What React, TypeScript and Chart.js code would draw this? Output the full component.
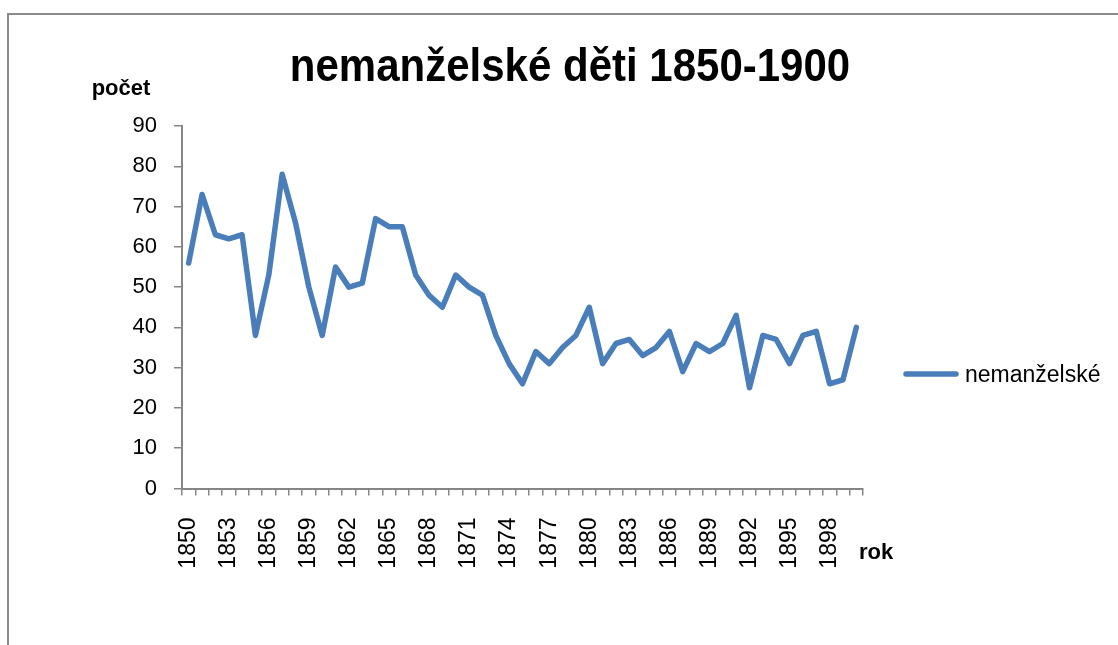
import React, { useEffect, useRef } from "react";
import { Chart, registerables } from "chart.js";

Chart.register(...registerables);

const years: string[] = [
  "1850","1851","1852","1853","1854","1855","1856","1857","1858","1859",
  "1860","1861","1862","1863","1864","1865","1866","1867","1868","1869",
  "1870","1871","1872","1873","1874","1875","1876","1877","1878","1879",
  "1880","1881","1882","1883","1884","1885","1886","1887","1888","1889",
  "1890","1891","1892","1893","1894","1895","1896","1897","1898","1899",
  "1900",
];

const illegitimate: number[] = [
  56, 73, 63, 62, 63, 38, 53, 78, 66, 50,
  38, 55, 50, 51, 67, 65, 65, 53, 48, 45,
  53, 50, 48, 38, 31, 26, 34, 31, 35, 38,
  45, 31, 36, 37, 33, 35, 39, 29, 36, 34,
  36, 43, 25, 38, 37, 31, 38, 39, 26, 27,
  40,
];

const yTicks: number[] = [0, 10, 20, 30, 40, 50, 60, 70, 80, 90];

const TITLE = "nemanželské děti 1850-1900";
const SERIES = "nemanželské";
const Y_TITLE = "počet";
const X_TITLE = "rok";

const FONT = "'Liberation Sans', Arial, sans-serif";
const BLUE = "#4a7ebb";
const GREY = "#868686";

export default function App() {
  const ref = useRef<HTMLCanvasElement | null>(null);

  useEffect(() => {
    if (!ref.current) return;
    const textPlugin = {
      id: "texts",
      afterDraw(chart: any) {
        const ctx = chart.ctx as CanvasRenderingContext2D;
        ctx.save();
        ctx.fillStyle = "#000";
        ctx.textBaseline = "middle";
        ctx.textAlign = "center";
        ctx.save();
        ctx.translate(570, 68);
        ctx.scale(1, 1.1);
        ctx.font = `bold 42px ${FONT}`;
        ctx.fillText(TITLE, 0, 0);
        ctx.restore();
        ctx.font = `bold 22px ${FONT}`;
        ctx.fillText(Y_TITLE, 121, 89);
        ctx.textAlign = "left";
        ctx.fillText(X_TITLE, 859, 553);
        // legend
        ctx.strokeStyle = BLUE;
        ctx.lineWidth = 5.5;
        ctx.lineCap = "round";
        ctx.beginPath();
        ctx.moveTo(906, 374);
        ctx.lineTo(956, 374);
        ctx.stroke();
        ctx.font = `23px ${FONT}`;
        ctx.fillText(SERIES, 965, 376);
        ctx.restore();
      },
    };

    const chart = new Chart(ref.current, {
      type: "line",
      data: {
        labels: years,
        datasets: [
          {
            label: SERIES,
            data: illegitimate,
            borderColor: BLUE,
            backgroundColor: BLUE,
            borderWidth: 5.5,
            pointRadius: 0,
            tension: 0,
            borderCapStyle: "round",
            borderJoinStyle: "round",
          },
        ],
      },
      options: {
        responsive: false,
        animation: false,
        devicePixelRatio: 1,
        layout: { padding: { left: 122, right: 255, top: 126, bottom: 56.5 } },
        plugins: {
          legend: { display: false },
          title: { display: false },
          tooltip: { enabled: false },
        },
        scales: {
          x: {
            type: "category",
            offset: true,
            afterFit: (s: any) => {
              s.height = 100;
            },
            grid: {
              offset: true,
              drawOnChartArea: false,
              drawTicks: true,
              tickLength: 7,
              color: GREY,
              lineWidth: 1.5,
            },
            border: { color: GREY, width: 2 },
            ticks: {
              autoSkip: false,
              minRotation: 90,
              maxRotation: 90,
              padding: 22,
              color: "#000",
              font: { family: FONT, size: 23 },
              callback: (_v: any, i: number) => (i % 3 === 0 ? years[i] : ""),
            },
          },
          y: {
            min: 0,
            max: 90,
            afterFit: (s: any) => {
              s.width = 60;
            },
            afterBuildTicks: (s: any) => {
              s.ticks = yTicks.map((v) => ({ value: v }));
            },
            grid: {
              drawOnChartArea: false,
              drawTicks: true,
              tickLength: 8,
              color: GREY,
              lineWidth: 1.5,
            },
            border: { color: GREY, width: 2 },
            ticks: {
              padding: 17,
              color: "#000",
              font: { family: FONT, size: 22 },
            },
          },
        },
      },
      plugins: [textPlugin],
    });
    return () => chart.destroy();
  }, []);

  return (
    <div
      style={{
        position: "fixed",
        left: 0,
        top: 0,
        width: 1118,
        height: 645,
        overflow: "hidden",
        background: "#fff",
      }}
    >
      <div
        style={{
          position: "absolute",
          left: 7,
          top: 13,
          width: 1300,
          height: 800,
          border: "2px solid #8a8a8a",
        }}
      />
      <canvas
        ref={ref}
        width={1118}
        height={645}
        style={{ position: "absolute", left: 0, top: 0, width: 1118, height: 645 }}
      />
    </div>
  );
}
